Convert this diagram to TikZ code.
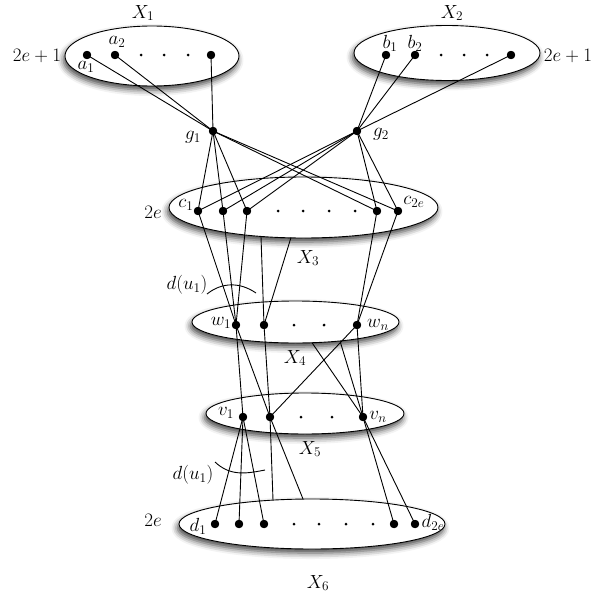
\RequirePackage{fix-cm}
\documentclass[tikz,border=0pt]{standalone}
\usetikzlibrary{shapes.geometric,shadows.blur}
\tikzset{
  setel/.style={ellipse,draw,fill=white,line width=0.9pt,inner sep=0pt,
    blur shadow={shadow xshift=-1.5pt,shadow yshift=-4pt,shadow blur radius=6pt,shadow opacity=75}},
  bigdot/.style={circle,fill=black,inner sep=0pt,minimum size=8pt},
  smalldot/.style={circle,fill=black,inner sep=0pt,minimum size=3pt},
  edge/.style={line width=0.9pt},
  lbl/.style={font=\fontsize{19}{22}\selectfont,inner sep=0pt},
}
\begin{document}
\begin{tikzpicture}[x=1pt,y=-1pt]
\useasboundingbox (0,0) rectangle (595,597);
% sets
\node[setel,minimum width=174pt,minimum height=60pt] (X1e) at (152,56) {};
\node[setel,minimum width=186pt,minimum height=55pt] (X2e) at (447,53) {};
\node[setel,minimum width=269pt,minimum height=61pt] (X3e) at (303.5,207.5) {};
\node[setel,minimum width=207pt,minimum height=42pt] (X4e) at (295.5,322) {};
\node[setel,minimum width=198pt,minimum height=41pt] (X5e) at (305,413.5) {};
\node[setel,minimum width=266pt,minimum height=50pt] (X6e) at (312,524) {};
% vertices
\foreach \n/\x in {a1/87,a2/115,a6/211} \node[bigdot] (\n) at (\x,55) {};
\foreach \n/\x in {a3/141,a4/164,a5/188} \node[smalldot] (\n) at (\x,55) {};
\foreach \n/\x in {b1/386,b2/415,b6/511} \node[bigdot] (\n) at (\x,55) {};
\foreach \n/\x in {b3/441,b4/464,b5/487} \node[smalldot] (\n) at (\x,55) {};
\node[bigdot] (g1) at (213,131) {};
\node[bigdot] (g2) at (357,131) {};
\foreach \n/\x in {c1/198,c2/223,c3/247,c7/377,c8/398} \node[bigdot] (\n) at (\x,211) {};
\foreach \n/\x in {c4/278,c5/303,c6/329,c6b/355} \node[smalldot] (\n) at (\x,211) {};
\foreach \n/\x in {w1/236,w2/264,wn/357} \node[bigdot] (\n) at (\x,325) {};
\foreach \n/\x in {w3/294,w4/324} \node[smalldot] (\n) at (\x,325) {};
\foreach \n/\x in {v1/243,v2/270,vn/363} \node[bigdot] (\n) at (\x,417) {};
\foreach \n/\x in {v3/301,v4/332} \node[smalldot] (\n) at (\x,417) {};
\foreach \n/\x in {d1/215,d2/239,d3/264,d7/394,d8/415} \node[bigdot] (\n) at (\x,524) {};
\foreach \n/\x in {d4/294,d5/319,d6/346,d6b/373} \node[smalldot] (\n) at (\x,524) {};
% boundary points
\coordinate (p3a) at (261,236.5);
\coordinate (p3b) at (291,237.5);
\coordinate (p4a) at (312,342.7);
\coordinate (p4b) at (340,341);
\coordinate (p6a) at (273,500);
\coordinate (p6b) at (303,499);
% edges
\foreach \s in {a1,a2,a6} \draw[edge] (\s.center) -- (g1.center);
\foreach \s in {b1,b2,b6} \draw[edge] (\s.center) -- (g2.center);
\foreach \t in {c1,c2,c3,c7,c8} {\draw[edge] (g1.center) -- (\t.center); \draw[edge] (g2.center) -- (\t.center);}
\foreach \s in {c1,c2,c3} \draw[edge] (\s.center) -- (w1.center);
\foreach \s in {c7,c8} \draw[edge] (\s.center) -- (wn.center);
\draw[edge] (p3a) -- (w2.center);
\draw[edge] (p3b) -- (w2.center);
\draw[edge] (w1.center) -- (v1.center);
\draw[edge] (w1.center) -- (v2.center);
\draw[edge] (w2.center) -- (v2.center);
\draw[edge] (wn.center) -- (v2.center);
\draw[edge] (wn.center) -- (vn.center);
\draw[edge] (p4a) -- (vn.center);
\draw[edge] (p4b) -- (vn.center);
\foreach \t in {d1,d2,d3} \draw[edge] (v1.center) -- (\t.center);
\draw[edge] (v2.center) -- (p6a);
\draw[edge] (v2.center) -- (p6b);
\foreach \t in {d7,d8} \draw[edge] (vn.center) -- (\t.center);
% redraw dots on top
\foreach \n in {a1,a2,a6,b1,b2,b6,g1,g2,c1,c2,c3,c7,c8,w1,w2,wn,v1,v2,vn,d1,d2,d3,d7,d8}
  \fill (\n.center) circle (4.2pt);
% arcs
\coordinate (ua) at (207,294);
\coordinate (ub) at (256,293);
\draw[edge] (ua) .. controls (222,282) and (240,282) .. (ub);
\coordinate (la) at (215,462);
\coordinate (lb) at (265,470);
\draw[edge] (la) .. controls (230,476) and (245,474) .. (lb);
% labels
\node[lbl] (tX1) at (143,13) {$X_1$};
\node[lbl] (tX2) at (452,13) {$X_2$};
\node[lbl] (tX3) at (308,258) {$X_3$};
\node[lbl] (tX4) at (295,358) {$X_4$};
\node[lbl] (tX5) at (310,449) {$X_5$};
\node[lbl] (tX6) at (318,583) {$X_6$};
\node[lbl] (tl1) at (37,56) {$2e+1$};
\node[lbl] (tr1) at (568,56) {$2e+1$};
\node[lbl] (t2a) at (153,212) {$2e$};
\node[lbl] (t2b) at (153,520) {$2e$};
\node[lbl] (ta1) at (86,67) {$a_1$};
\node[lbl] (ta2) at (117,42) {$a_2$};
\node[lbl] (tb1) at (390,43) {$b_1$};
\node[lbl] (tb2) at (415,43) {$b_2$};
\node[lbl] (tg1) at (193,137) {$g_1$};
\node[lbl] (tg2) at (381,134) {$g_2$};
\node[lbl] (tc1) at (186,205) {$c_1$};
\node[lbl] (tc8) at (414,202) {$c_{2e}$};
\node[lbl] (tw1) at (221,323) {$w_1$};
\node[lbl] (twn) at (378,325) {$w_n$};
\node[lbl] (tv1) at (226,413) {$v_1$};
\node[lbl] (tvn) at (378,417) {$v_n$};
\node[lbl] (td1) at (198,526) {$d_1$};
\node[lbl] (td8) at (433,522) {$d_{2e}$};
\node[lbl] (tdu1) at (187,285) {$d(u_1)$};
\node[lbl] (tdu2) at (193,475) {$d(u_1)$};
\end{tikzpicture}
\end{document}
